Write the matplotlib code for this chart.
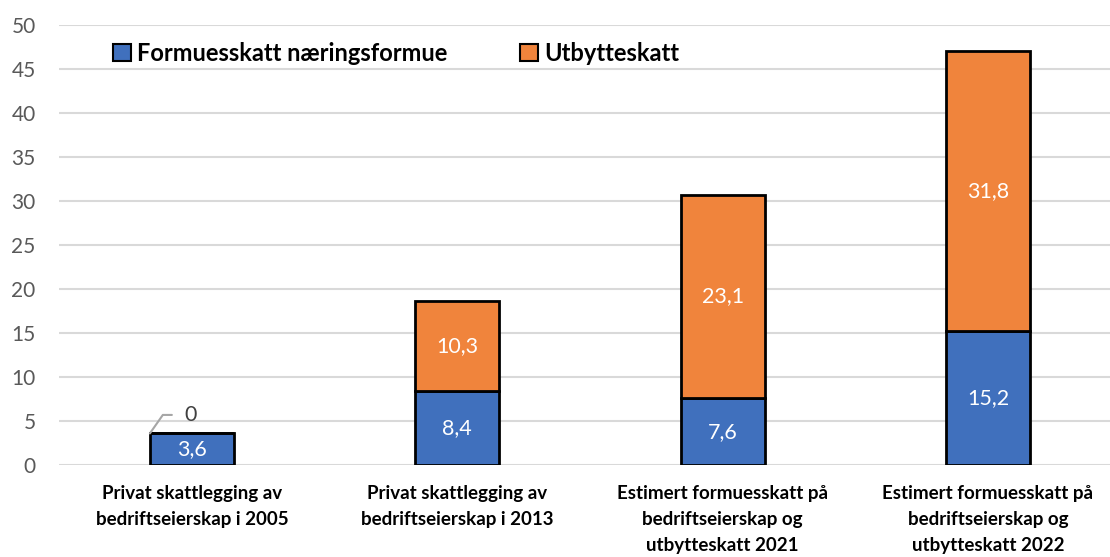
import numpy as np
import matplotlib.pyplot as plt

categories = ['Privat skattlegging av\nbedriftseierskap i 2005',
              'Privat skattlegging av\nbedriftseierskap i 2013',
              'Estimert formuesskatt på\nbedriftseierskap og\nutbytteskatt 2021',
              'Estimert formuesskatt på\nbedriftseierskap og\nutbytteskatt 2022']
formue = [3.6, 8.4, 7.6, 15.2]
utbytte = [0, 10.3, 23.1, 31.8]
series_names = ['Formuesskatt næringsformue', 'Utbytteskatt']

plt.rcParams['font.family'] = ['Lato', 'DejaVu Sans']

fig = plt.figure(figsize=(11.1, 5.57), dpi=100)
ax = fig.add_axes([0.0534, 0.165, 0.9466, 0.79])

x = np.arange(len(categories))
w = 0.317
blue = '#4070BD'
orange = '#F0843C'
ax.bar(x, formue, width=w, color=blue, edgecolor='black', linewidth=2,
       label=series_names[0], zorder=3)
ax.bar(x, utbytte, width=w, bottom=formue, color=orange, edgecolor='black',
       linewidth=2, label=series_names[1], zorder=3)

for i in range(len(x)):
    ax.text(x[i], formue[i] / 2, ('%.1f' % formue[i]).replace('.', ','),
            ha='center', va='center', color='white', fontsize=15.5, zorder=4)
    if utbytte[i] > 0:
        ax.text(x[i], formue[i] + utbytte[i] / 2, ('%.1f' % utbytte[i]).replace('.', ','),
                ha='center', va='center', color='white', fontsize=15.5, zorder=4)
    else:
        # zero-value label with leader line
        ax.annotate('0', xy=(x[i] - w / 2, formue[i]), xytext=(x[i] - w / 2 + 0.13, formue[i] + 2.1),
                    ha='left', va='center', fontsize=15.5, color='#404040',
                    arrowprops=dict(arrowstyle='-', color='#A6A6A6', lw=1.5,
                                    connectionstyle='angle,angleA=0,angleB=55,rad=0',
                                    shrinkA=7, shrinkB=0))

ax.set_ylim(0, 50)
ax.set_yticks(np.arange(0, 51, 5))
ax.set_xlim(-0.5, 3.46)
ax.set_xticks(x)
ax.set_xticklabels(categories, fontsize=13.5, fontweight='bold', linespacing=1.65)
ax.tick_params(axis='x', length=0, pad=14)
ax.tick_params(axis='y', length=0, labelsize=15, labelcolor='#595959', pad=17)
ax.grid(axis='y', color='#D9D9D9', linewidth=1.5, zorder=0)
for s in ax.spines.values():
    s.set_visible(False)

leg = ax.legend(loc='upper left', bbox_to_anchor=(0.031, 1.01), ncol=2, frameon=False,
                prop={'weight': 'bold', 'size': 17}, handlelength=0.75, handleheight=0.75,
                handletextpad=0.25, columnspacing=3.1)
for h in leg.legend_handles:
    h.set_linewidth(1.5)

fig.savefig('out.png', dpi=100)
